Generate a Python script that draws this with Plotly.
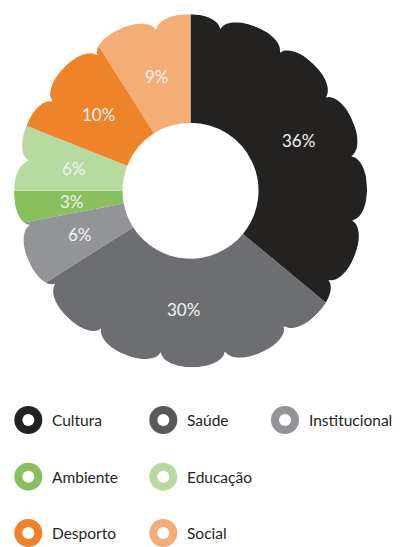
import numpy as np
import plotly.graph_objects as go

# ---------------- data ----------------
categories = ["Cultura", "Saúde", "Institucional", "Ambiente", "Educação", "Desporto", "Social"]
shares = [36, 30, 6, 3, 6, 10, 9]
slice_colors = ["#232220", "#6d6e71", "#939497", "#88bf5f", "#b6da9f", "#ef8329", "#f4ad76"]
legend_colors = ["#232220", "#58595b", "#939497", "#88bf5f", "#b6da9f", "#ef8329", "#f4ad76"]

# ---------------- layout constants (pixels) ----------------
OFF = 8                         # page body margin of the browser
W, H = 401 - OFF, 547 - OFF
CX, CY = 190.5 - OFF, 190.7 - OFF   # donut centre
R_OUT = 176.5                  # outer radius (peaks of the scallops)
R_HOLE = 68.0
R_VALLEY = 162.0               # radius at the scallop notches
R_LABEL = 119.0
N_BUMPS = 16
VALLEY0 = 10.4                 # angle (deg, clockwise from top) of first notch

FONT = "Lato"

fig = go.Figure()

# donut
fig.add_trace(go.Pie(
    labels=categories,
    values=shares,
    sort=False,
    direction="clockwise",
    rotation=0,
    hole=R_HOLE / R_OUT,
    marker=dict(colors=slice_colors, line=dict(width=0)),
    textinfo="none",
    showlegend=False,
    hoverinfo="label+percent",
    domain=dict(x=[(CX - R_OUT) / W, (CX + R_OUT) / W],
                y=[1 - (CY + R_OUT) / H, 1 - (CY - R_OUT) / H]),
))

# percentage labels on each slice's bisector
vals = np.array(shares, dtype=float)
cum = np.cumsum(vals)
mid = (cum - vals / 2) / vals.sum() * 360.0
lx = CX + R_LABEL * np.sin(np.radians(mid))
ly = CY - R_LABEL * np.cos(np.radians(mid))
for v, x, y in zip(shares, lx, ly):
    fig.add_annotation(x=x, y=y, text=f"{v}%", showarrow=False,
                       xref="x", yref="y", xanchor="center", yanchor="middle",
                       font=dict(family=FONT, size=17, color="#f4f4f4"))

# custom legend (3 rows)
leg_icon_x = [28.3 - OFF, 163.3 - OFF, 285.0 - OFF, 28.3 - OFF, 163.3 - OFF, 28.3 - OFF, 163.3 - OFF]
leg_y = [420.0 - OFF] * 3 + [476.7 - OFF] * 2 + [533.0 - OFF] * 2
fig.add_trace(go.Scatter(
    x=leg_icon_x, y=leg_y, mode="markers",
    marker=dict(size=28, color=legend_colors, line=dict(width=0)),
    showlegend=False, hoverinfo="skip", xaxis="x", yaxis="y",
))
fig.add_trace(go.Scatter(
    x=leg_icon_x, y=leg_y, mode="markers",
    marker=dict(size=12, color="white", line=dict(width=0)),
    showlegend=False, hoverinfo="skip", xaxis="x", yaxis="y",
))
for lab, x, y in zip(categories, leg_icon_x, leg_y):
    fig.add_annotation(x=x + 22.0, y=y, text=lab, showarrow=False,
                       xref="x", yref="y", xanchor="left", yanchor="middle",
                       font=dict(family=FONT, size=15.5, color="#231f20"))

# scalloped outer edge: white mask outside the wavy contour
phi = np.arange(0, 360.0001, 0.5)
step = 360.0 / N_BUMPS
t = ((phi - VALLEY0) % step) / step
u = 2 * t - 1
p = 2.2
r = R_VALLEY + (R_OUT - R_VALLEY) * (1 - np.abs(u) ** p) ** (1 / p)
px = CX + r * np.sin(np.radians(phi))
py = CY - r * np.cos(np.radians(phi))
path = f"M -5 -5 L {W+5} -5 L {W+5} 380 L -5 380 Z M " + " L ".join(
    f"{a:.2f} {b:.2f}" for a, b in zip(px, py)) + " Z"
fig.add_shape(type="path", path=path, xref="x", yref="y",
              fillcolor="white", line=dict(width=0), layer="above",
              fillrule="evenodd")

fig.update_layout(
    width=W, height=H,
    margin=dict(l=0, r=0, t=0, b=0),
    paper_bgcolor="white", plot_bgcolor="rgba(0,0,0,0)",
    xaxis=dict(range=[0, W], visible=False, fixedrange=True, domain=[0, 1]),
    yaxis=dict(range=[H, 0], visible=False, fixedrange=True, domain=[0, 1]),
    showlegend=False,
)

fig.write_html("out.html")
